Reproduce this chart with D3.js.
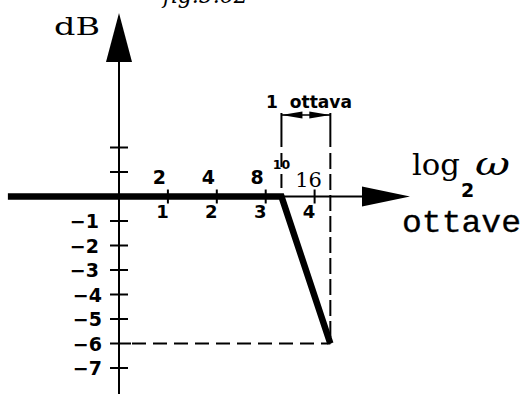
<!DOCTYPE html>
<html>
<head>
<meta charset="utf-8">
<script src="https://cdn.jsdelivr.net/npm/d3@7"></script>
<style>
  html, body { margin: 0; padding: 0; background: #fff; }
  svg { display: block; }
</style>
</head>
<body>
<svg id="chart" width="525" height="394"></svg>
<script>
// Asymptotic Bode magnitude: flat to the break frequency, then -6 dB per octave.
const freqValues   = [2, 4, 8, 16];           // ω at each octave tick
const freqLabels   = ["2", "4", "8", "16"];
const octaveLabels = ["1", "2", "3", "4"];     // octave count under the axis
const dbTicks      = [2, 1, -1, -2, -3, -4, -5, -6, -7];
const dbLabelVals  = [-1, -2, -3, -4, -5, -6, -7];
const breakFreq    = 10;
const breakLabel   = "10";
const respOmega    = [0.207, 10, 20];          // start, break, one octave later
const respDb       = [0, 0, -6];

const svg = d3.select("#chart");
const ink = "#000";

const x = d3.scaleLog().base(2).domain([1, 16]).range([119, 314.6]);
const y = d3.scaleLinear().domain([0, -6]).range([196.5, 343.5]);

const x0 = x(1), y0 = y(0);
const xEnd = x(respOmega[2]);
const yEnd = y(respDb[2]);

// ---- caption (runs off the top edge)
svg.append("text")
  .attr("x", 163).attr("y", 3)
  .attr("font-family", "DejaVu Serif").attr("font-style", "italic")
  .attr("font-size", 22).attr("fill", ink)
  .text("fig.5.62");

// ---- dB axis (vertical) with arrow
svg.append("line")
  .attr("x1", x0).attr("x2", x0).attr("y1", 55).attr("y2", 394)
  .attr("stroke", ink).attr("stroke-width", 2);
svg.append("path")
  .attr("d", `M${x0},13 L${x0 - 13},62 L${x0 + 13},62 Z`)
  .attr("fill", ink);

svg.selectAll(".ytick").data(dbTicks).join("line")
  .attr("class", "ytick")
  .attr("x1", x0 - 9)
  .attr("x2", d => d === -6 ? x0 + 12 : x0 + 9)
  .attr("y1", d => y(d)).attr("y2", d => y(d))
  .attr("stroke", ink).attr("stroke-width", 2);

svg.selectAll(".ylab").data(dbLabelVals).join("text")
  .attr("class", "ylab")
  .attr("x", d => d <= -4 ? 102 : 99)
  .attr("y", d => y(d) + 7)
  .attr("text-anchor", "end")
  .attr("font-family", "DejaVu Sans").attr("font-weight", "bold")
  .attr("font-size", 19).attr("fill", ink)
  .text(d => "\u2212" + Math.abs(d));

svg.append("text")
  .attr("x", 54).attr("y", 35)
  .attr("font-family", "DejaVu Serif").attr("font-size", 25)
  .attr("textLength", 46).attr("lengthAdjust", "spacingAndGlyphs")
  .attr("fill", ink).text("dB");

// ---- frequency axis (horizontal) thin part with arrow
svg.append("line")
  .attr("x1", x(breakFreq)).attr("x2", 365).attr("y1", y0).attr("y2", y0)
  .attr("stroke", ink).attr("stroke-width", 2);
svg.append("path")
  .attr("d", `M410,${y0} L362,${y0 - 10} L362,${y0 + 10} Z`)
  .attr("fill", ink);

svg.selectAll(".xtick").data(freqValues).join("line")
  .attr("class", "xtick")
  .attr("x1", d => x(d)).attr("x2", d => x(d))
  .attr("y1", y0 - 7).attr("y2", y0 + 7)
  .attr("stroke", ink).attr("stroke-width", 2);

// ω labels above, octave numbers below
svg.selectAll(".flab").data(freqValues).join("text")
  .attr("class", "flab")
  .attr("x", (d, i) => x(d) - (i === 3 ? 6 : 8.5))
  .attr("y", (d, i) => i === 3 ? 187 : 184)
  .attr("text-anchor", "middle")
  .attr("font-family", (d, i) => i === 3 ? "DejaVu Serif" : "DejaVu Sans")
  .attr("font-weight", (d, i) => i === 3 ? "normal" : "bold")
  .attr("font-size", (d, i) => i === 3 ? 21 : 19)
  .attr("fill", ink)
  .text((d, i) => freqLabels[i]);

svg.selectAll(".olab").data(freqValues).join("text")
  .attr("class", "olab")
  .attr("x", d => x(d) - 5.5)
  .attr("y", 218)
  .attr("text-anchor", "middle")
  .attr("font-family", "DejaVu Sans").attr("font-weight", "bold")
  .attr("font-size", 18).attr("fill", ink)
  .text((d, i) => octaveLabels[i]);

svg.append("text")
  .attr("x", x(breakFreq)).attr("y", 169)
  .attr("text-anchor", "middle")
  .attr("font-family", "DejaVu Sans").attr("font-weight", "bold")
  .attr("font-size", 12.5).attr("fill", ink)
  .text(breakLabel);

// axis titles on the right
const lg = svg.append("g").attr("fill", ink);
lg.append("text").attr("x", 412).attr("y", 175)
  .attr("font-family", "DejaVu Serif").attr("font-size", 29)
  .attr("textLength", 48).attr("lengthAdjust", "spacingAndGlyphs")
  .text("log");
lg.append("text").attr("x", 461).attr("y", 197)
  .attr("font-family", "DejaVu Sans").attr("font-weight", "bold")
  .attr("font-size", 19).text("2");
lg.append("text").attr("x", 475).attr("y", 175)
  .attr("font-family", "DejaVu Serif").attr("font-style", "italic")
  .attr("font-size", 32)
  .attr("textLength", 35).attr("lengthAdjust", "spacingAndGlyphs")
  .text("ω");
lg.append("text").attr("x", 402).attr("y", 232)
  .attr("font-family", "Liberation Mono").attr("font-size", 32)
  .attr("stroke", ink).attr("stroke-width", 0.3)
  .attr("textLength", 119).attr("lengthAdjust", "spacingAndGlyphs")
  .text("ottave");

// ---- construction lines: -6 dB level and the octave after the break
svg.append("line")
  .attr("x1", x0 + 13).attr("x2", xEnd).attr("y1", yEnd).attr("y2", yEnd)
  .attr("stroke", ink).attr("stroke-width", 2)
  .attr("stroke-dasharray", "14,7");

[x(breakFreq), xEnd].forEach(px => {
  svg.append("line")
    .attr("x1", px).attr("x2", px).attr("y1", 113).attr("y2", 147)
    .attr("stroke", ink).attr("stroke-width", 2);
});
svg.append("line")
  .attr("x1", x(breakFreq)).attr("x2", x(breakFreq)).attr("y1", 153).attr("y2", y0)
  .attr("stroke", ink).attr("stroke-width", 2)
  .attr("stroke-dasharray", "14,7");
svg.append("line")
  .attr("x1", xEnd).attr("x2", xEnd).attr("y1", 153).attr("y2", yEnd)
  .attr("stroke", ink).attr("stroke-width", 2)
  .attr("stroke-dasharray", "16,5");

// "1 ottava" bracket with opposing arrows
const bx1 = x(breakFreq), bx2 = xEnd, by = 115;
svg.append("line")
  .attr("x1", bx1).attr("x2", bx2).attr("y1", by).attr("y2", by)
  .attr("stroke", ink).attr("stroke-width", 1.5);
svg.append("path")
  .attr("d", `M${bx1},${by} L${bx1 + 21},${by - 3.5} L${bx1 + 21},${by + 3.5} Z`)
  .attr("fill", ink);
svg.append("path")
  .attr("d", `M${bx2},${by} L${bx2 - 21},${by - 3.5} L${bx2 - 21},${by + 3.5} Z`)
  .attr("fill", ink);
svg.append("text")
  .attr("x", 266).attr("y", 108)
  .attr("font-family", "DejaVu Sans").attr("font-weight", "bold")
  .attr("font-size", 18).attr("fill", ink)
  .attr("textLength", 86).attr("lengthAdjust", "spacingAndGlyphs")
  .attr("xml:space", "preserve")
  .text("1  ottava");

// ---- asymptotic response (thick)
const line = d3.line()
  .x((d, i) => x(respOmega[i]))
  .y((d, i) => y(respDb[i]));
svg.append("path")
  .attr("d", line(respDb))
  .attr("fill", "none").attr("stroke", ink)
  .attr("stroke-width", 6.5)
  .attr("stroke-linejoin", "miter").attr("stroke-linecap", "butt");
</script>
</body>
</html>
